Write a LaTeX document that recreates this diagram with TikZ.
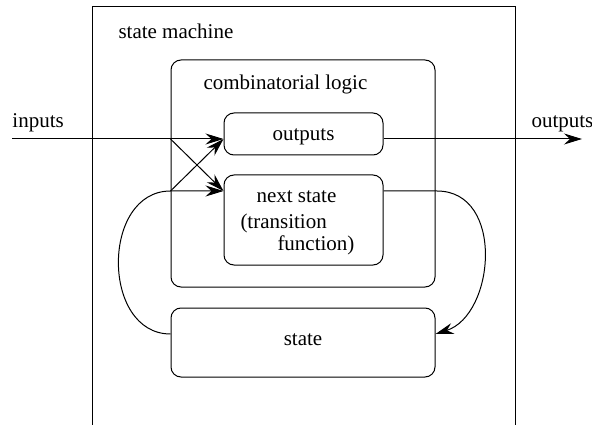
\documentclass[tikz,border=0pt]{standalone}
\usepackage{fontspec}
\setmainfont{Liberation Serif}
\newfontfamily\figfont{Liberation Serif}
\usetikzlibrary{arrows.meta}
\begin{document}
\begin{tikzpicture}[x=1pt,y=-1pt,line width=1pt,
  every node/.style={font=\figfont\fontsize{21}{25}\selectfont},
  box/.style={draw,rounded corners=10pt,inner sep=0pt},
  lbl/.style={anchor=base west,inner sep=0pt},
  arr/.style={-{Stealth[length=18pt,width=11pt,inset=6pt]}}]
\useasboundingbox (0,0) rectangle (592,425);
% outer open box
\coordinate (oa) at (92,425);
\coordinate (ob) at (92,7);
\coordinate (oc) at (515,7);
\coordinate (od) at (515,425);
\draw (oa) -- (ob) -- (oc) -- (od);
\node[lbl] (tsm) at (118,39) {state machine};
% boxes
\node[box,minimum width=264pt,minimum height=227pt] (comb) at (303,173.5) {};
\node[lbl] (tcl) at (203,90) {combinatorial logic};
\node[box,minimum width=159pt,minimum height=42pt] (outbox) at (303.5,134) {};
\node[lbl,anchor=base] (tout) at (303.5,141) {outputs};
\node[box,minimum width=159pt,minimum height=90pt] (nsbox) at (303.5,220) {};
\node[lbl] (tns1) at (256,202) {next state};
\node[lbl] (tns2) at (240,229) {(transition};
\node[lbl] (tns3) at (277,250) {function)};
\node[box,minimum width=264pt,minimum height=69pt] (state) at (303,342.5) {};
\node[lbl,anchor=base] (tst) at (303,345) {state};
% inputs / outputs labels
\node[lbl] (tin) at (12,128) {inputs};
\node[lbl] (touts) at (531,128) {outputs};
% coordinates
\coordinate (inL) at (12,139);
\coordinate (ot) at (outbox.west |- inL);
\coordinate (j1) at (comb.west |- inL);
\coordinate (nt) at (nsbox.west |- 0,191);
\coordinate (j2) at (comb.west |- nt);
\coordinate (oo) at (outbox.east |- inL);
\coordinate (oR) at (582,139);
\coordinate (ns) at (nsbox.east |- nt);
\coordinate (nsc) at (437,191);
\coordinate (sw) at (state.west |- 0,334);
\coordinate (se) at (state.east |- 0,334);
% connectors
\draw[arr] (inL) -- (ot);
\draw[arr] (j1) -- (nt);
\draw[arr] (j2) -- (ot);
\draw[arr] (sw) .. controls (101,334) and (101,191) .. (j2) -- (nt);
\draw[arr] (oo) -- (oR);
\draw[arr] (ns) -- (nsc) .. controls (505,191) and (495,315) .. (se);
\end{tikzpicture}
\end{document}
